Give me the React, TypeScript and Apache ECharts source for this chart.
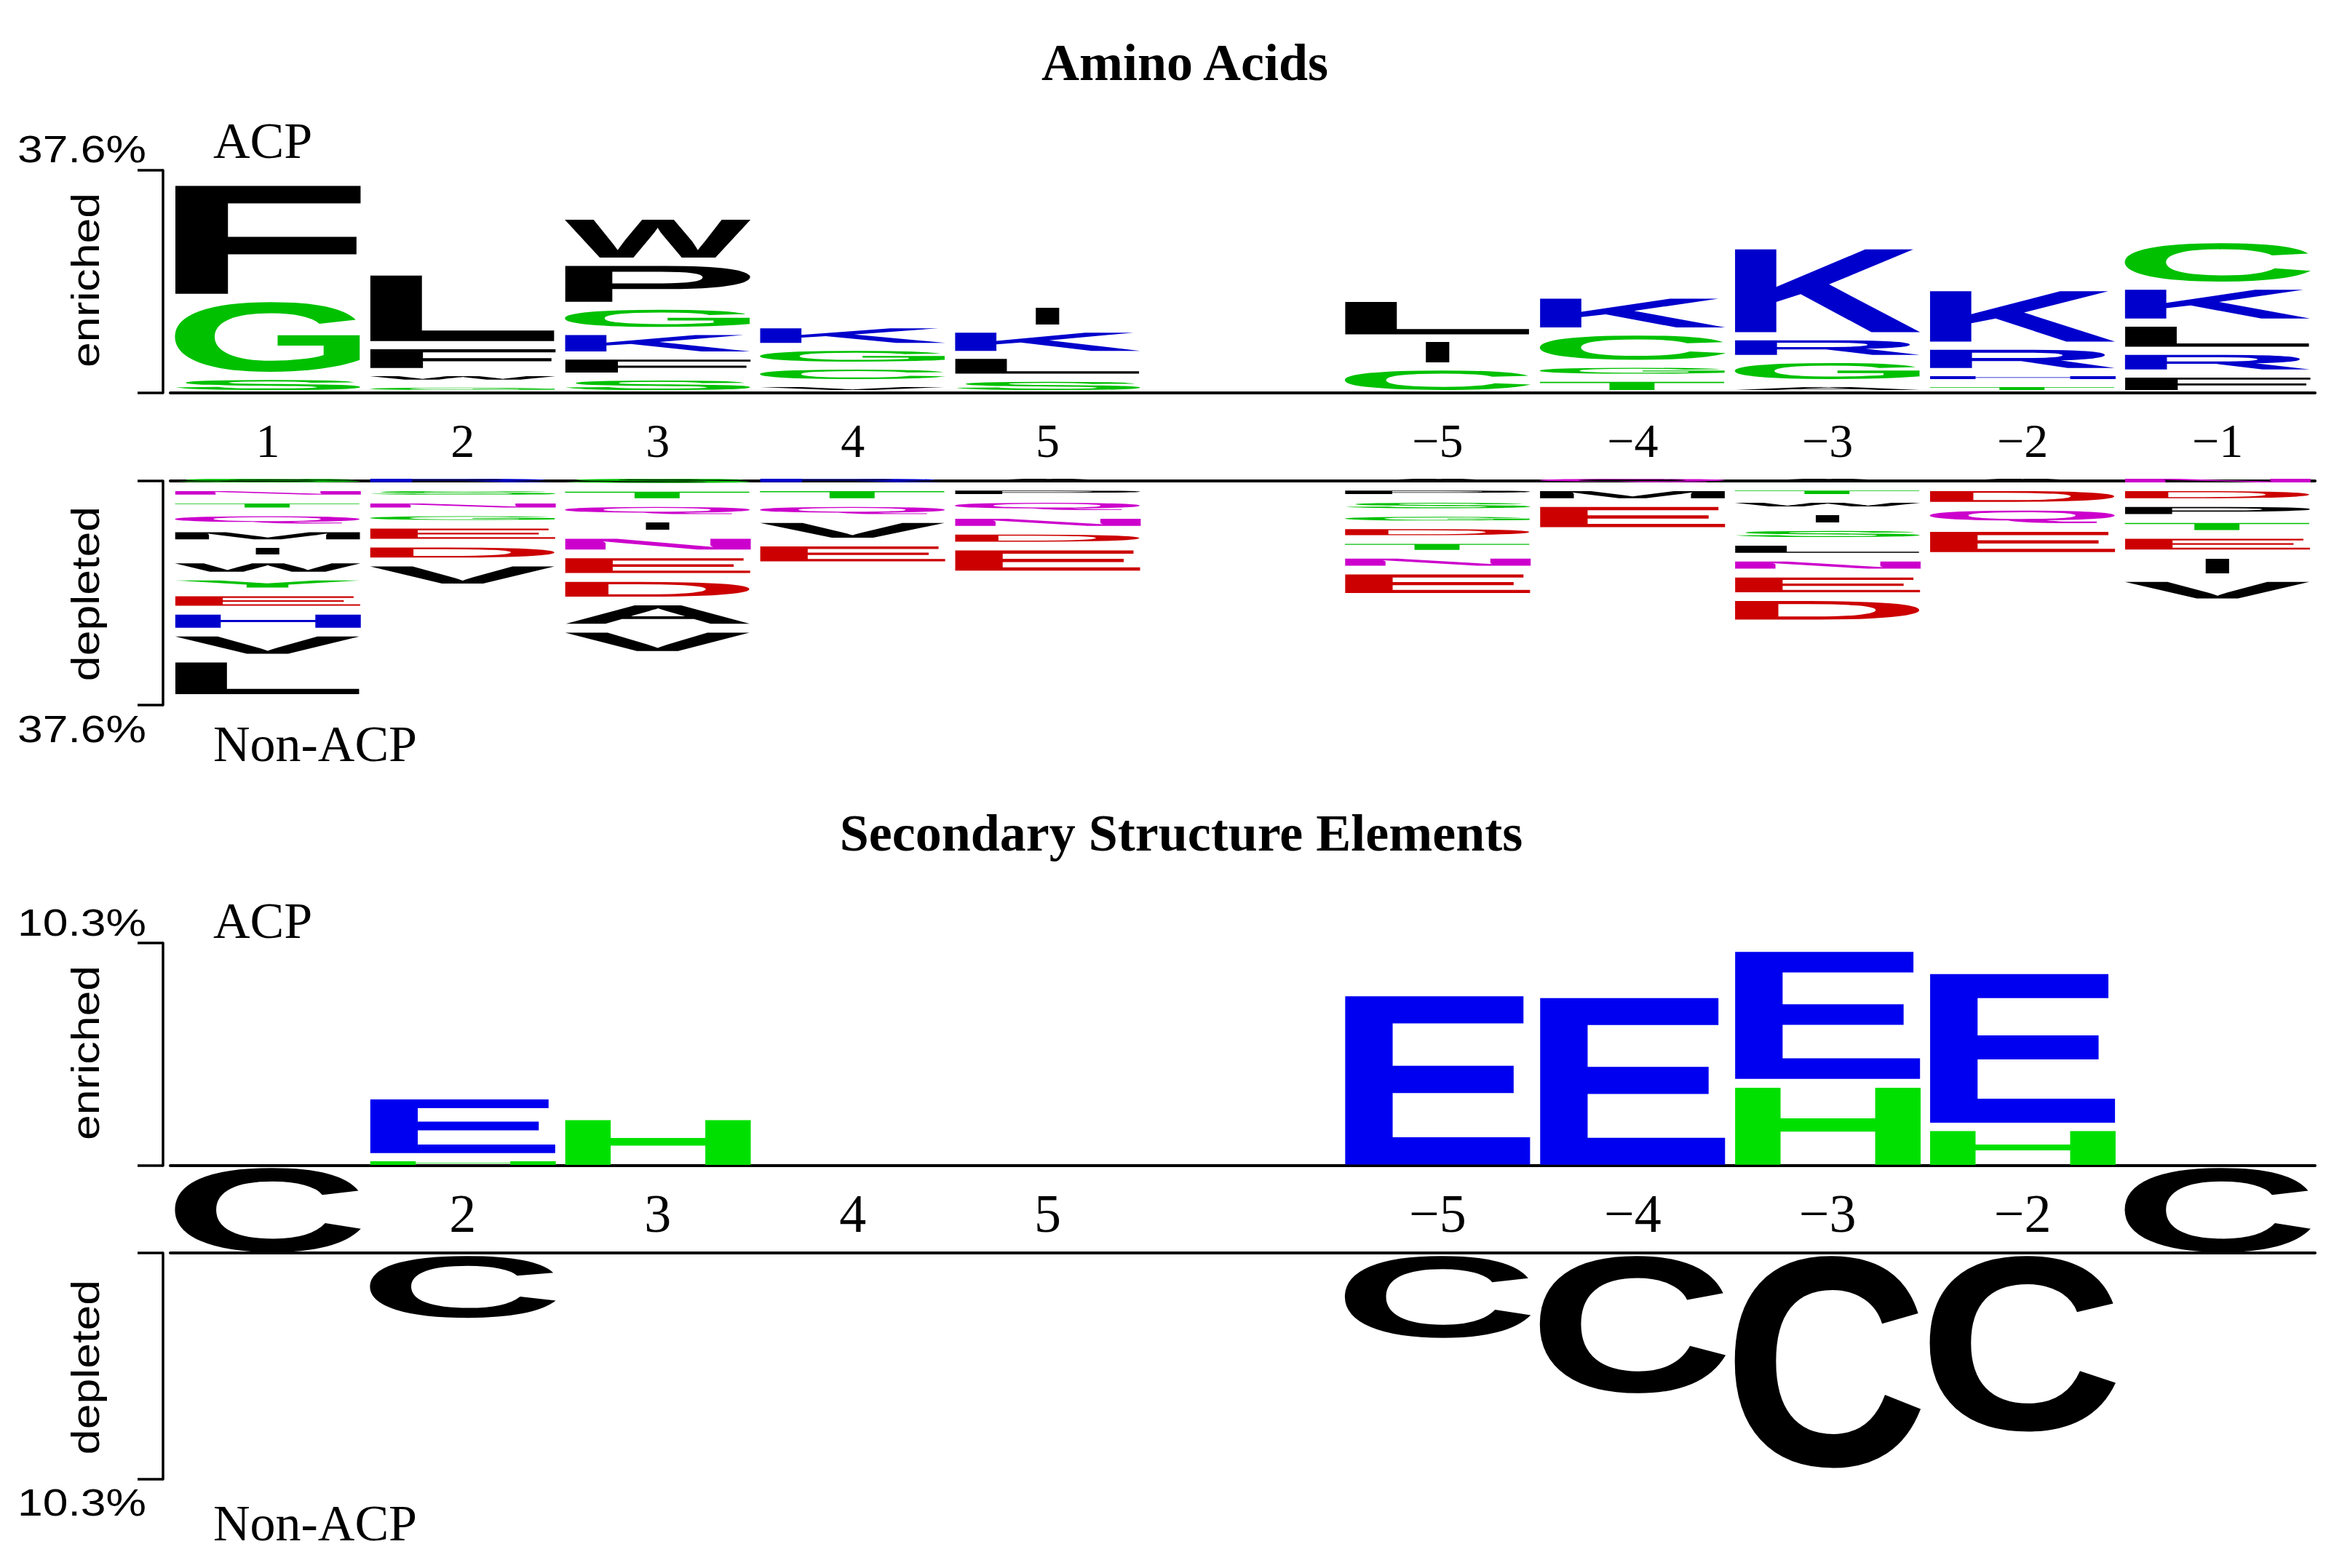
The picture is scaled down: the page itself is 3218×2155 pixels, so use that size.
import React, { useEffect, useRef } from "react";
import * as echarts from "echarts";

const WIDTH = 3218;
const HEIGHT = 2155;

// ---------- data ----------
const slots = ["0", "1", "2", "3", "4", "5", "6", "7", "8", "9", "10"];
const aaPositionLabels = ["1", "2", "3", "4", "5", "", "−5", "−4", "−3", "−2", "−1"];
const ssPositionLabels = ["", "2", "3", "4", "5", "", "−5", "−4", "−3", "−2", ""];

// Amino acids, enriched in ACP: letters from the baseline upward, heights in %
const aaEnrichedLetters = ["SGF", "GWFL", "SFKGPW", "VCGK", "SLKI", "", "CIL", "TGCK", "AGRK", "THRK", "FRLKC"];
const aaEnrichedHeights = [
  [1.7, 11.8, 18.4],
  [0.4, 0.6, 3.2, 11.1],
  [1.6, 2.2, 2.8, 2.9, 6.1, 6.4],
  [0.5, 1.6, 1.8, 2.5],
  [1.4, 2.5, 3.1, 2.8],
  [],
  [3.3, 3.4, 5.5],
  [1.4, 1.0, 4.1, 4.9],
  [0.5, 2.7, 2.5, 14.1],
  [0.5, 0.5, 3.1, 8.6],
  [2.1, 2.5, 3.4, 4.9, 6.5],
];

// Amino acids, depleted (enriched in Non-ACP): letters from the axis downward, heights in %
const aaDepletedLetters = ["SNTQMIWYEHVL", "RSNGEDV", "STQINEDAV", "RTQVE", "APQNDE", "", "APSGDTNE", "QME", "ATWISLNED", "ADQE", "NDPTEIV"];
const aaDepletedHeights = [
  [0.6, 0.6, 0.7, 1.2, 1.2, 1.1, 1.4, 1.2, 1.6, 2.2, 2.9, 5.3],
  [0.6, 0.6, 0.7, 0.6, 1.7, 1.7, 2.9],
  [0.7, 1.1, 1.2, 1.2, 1.8, 2.5, 2.5, 3.1, 3.1],
  [0.6, 1.2, 1.2, 2.5, 2.5],
  [0.5, 0.6, 1.2, 1.2, 1.2, 3.4],
  [],
  [0.5, 0.6, 0.9, 0.6, 1.0, 1.0, 1.2, 3.1],
  [0.6, 1.2, 3.4],
  [0.5, 0.6, 0.6, 1.2, 1.0, 1.2, 1.2, 2.5, 3.1],
  [0.6, 1.8, 2.1, 3.4],
  [0.6, 1.2, 1.2, 1.2, 1.8, 2.5, 2.8],
];

// Secondary structure elements
const ssEnrichedLetters = ["", "HE", "H", "", "", "", "E", "E", "HE", "HE", ""];
const ssEnrichedHeights = [[], [0.17, 2.49], [2.09], [], [], [], [7.81], [7.74], [3.6, 5.89], [1.58, 6.9], []];
const ssDepletedLetters = ["", "C", "", "", "", "", "C", "C", "C", "C", ""];
const ssDepletedHeights = [[], [2.82], [], [], [], [], [3.74], [6.26], [9.67], [8.01], []];
const ssConservedLetters = ["C", "", "", "", "", "", "", "", "", "", "C"];
const ssConservedHeights = [[1], [], [], [], [], [], [], [], [], [], [1]];

const aaMax = 37.6;
const ssMax = 10.3;

// ---------- styles ----------
const GLYPH_FAMILY = "'Liberation Sans', Arial, Helvetica, sans-serif";
const GLYPH_FS = 200;
const SERIF = "'Liberation Serif', 'Times New Roman', serif";
const SANS = "'Liberation Sans', Arial, Helvetica, sans-serif";

const aaColors: Record<string, string> = {};
"AVLIPWFM".split("").forEach((c) => (aaColors[c] = "#000000"));
"GSTYC".split("").forEach((c) => (aaColors[c] = "#00c000"));
"KRH".split("").forEach((c) => (aaColors[c] = "#0000cc"));
"DE".split("").forEach((c) => (aaColors[c] = "#cc0000"));
"NQ".split("").forEach((c) => (aaColors[c] = "#cc00cc"));
const ssColors: Record<string, string> = { C: "#000000", E: "#0000f0", H: "#00e000" };

const GRID_LEFT = 234;
const GRID_W = 2947;
const LETTER_FRAC = 0.955;
const I_FRAC = 0.125;

type Metric = { l: number; r: number; a: number; d: number; s: number };
type Item = { slot: number; letter: string; h: number; cum: number; idx: number; color: string };

function measureGlyphs(chars: string): Record<string, Metric> {
  const font = `bold ${GLYPH_FS}px ${GLYPH_FAMILY}`;
  const canvas = document.createElement("canvas");
  const ctx = canvas.getContext("2d")!;
  ctx.font = font;
  ctx.textBaseline = "alphabetic";
  ctx.textAlign = "left";
  let s = NaN;
  try {
    const ns = "http://www.w3.org/2000/svg";
    const svg = document.createElementNS(ns, "svg");
    svg.setAttribute("width", "800");
    svg.setAttribute("height", "800");
    (svg as any).style.position = "absolute";
    (svg as any).style.left = "-6000px";
    (svg as any).style.top = "0px";
    const mk = (db: string) => {
      const t = document.createElementNS(ns, "text");
      t.setAttribute("x", "0");
      t.setAttribute("y", "400");
      t.setAttribute("dominant-baseline", db);
      t.setAttribute("style", `font: ${font}`);
      t.textContent = "HQ";
      svg.appendChild(t);
      return t as any;
    };
    const ta = mk("alphabetic");
    const tc = mk("central");
    document.body.appendChild(svg);
    s = tc.getBBox().y - ta.getBBox().y;
    document.body.removeChild(svg);
  } catch (e) {
    s = NaN;
  }
  if (!isFinite(s) || s < 0.1 * GLYPH_FS || s > 0.6 * GLYPH_FS) s = 0.3465 * GLYPH_FS;
  const out: Record<string, Metric> = {};
  for (const ch of chars.split("")) {
    const m = ctx.measureText(ch);
    out[ch] = {
      l: m.actualBoundingBoxLeft,
      r: m.actualBoundingBoxRight,
      a: m.actualBoundingBoxAscent,
      d: m.actualBoundingBoxDescent,
      s,
    };
  }
  return out;
}

function buildItems(letters: string[], heights: number[][], colors: Record<string, string>): Item[] {
  const items: Item[] = [];
  letters.forEach((word, slot) => {
    let cum = 0;
    word.split("").forEach((ch, i) => {
      const h = heights[slot][i];
      items.push({ slot, letter: ch, h, cum, idx: i, color: colors[ch] });
      cum += h;
    });
  });
  return items;
}

function logoSeries(items: Item[], axisIdx: number, dir: 1 | -1, gap: number, offset: number, metrics: Record<string, Metric>) {
  return {
    type: "custom",
    xAxisIndex: axisIdx,
    yAxisIndex: axisIdx,
    coordinateSystem: "cartesian2d",
    clip: false,
    silent: true,
    encode: { x: 0, y: 1 },
    data: items.map((it) => [it.slot, it.cum, it.h, it.idx]),
    renderItem: (params: any, api: any) => {
      const it = items[params.dataIndex];
      const band = api.size([1, 0])[0];
      const c0 = api.coord([it.slot, it.cum]);
      const c1 = api.coord([it.slot, it.cum + it.h]);
      const hPx = Math.abs(c1[1] - c0[1]);
      let top: number;
      if (dir === 1) {
        const bottom = c0[1] - offset - it.idx * gap;
        top = bottom - hPx;
      } else {
        top = c0[1] + offset + it.idx * gap;
      }
      const w = band * (it.letter === "I" ? I_FRAC : LETTER_FRAC);
      const x0 = c0[0] - w / 2;
      const m = metrics[it.letter];
      const sx = w / (m.l + m.r);
      const sy = hPx / (m.a + m.d);
      return {
        type: "text",
        x: x0 + sx * m.l,
        y: top - sy * (m.s - m.a),
        scaleX: sx,
        scaleY: sy,
        silent: true,
        style: {
          text: it.letter,
          fill: it.color,
          font: `bold ${GLYPH_FS}px ${GLYPH_FAMILY}`,
          align: "left",
          verticalAlign: "middle",
          textAlign: "left",
          textVerticalAlign: "middle",
        },
      };
    },
  };
}

function catAxis(gridIndex: number, position: string, labels: string[] | null, fontSize: number, margin: number, showLine: boolean) {
  return {
    type: "category",
    gridIndex,
    position,
    data: slots,
    boundaryGap: true,
    axisLine: { show: showLine, onZero: false, lineStyle: { color: "#000", width: 4 } },
    axisTick: { show: false },
    axisLabel: {
      show: !!labels,
      interval: 0,
      margin,
      fontSize,
      fontFamily: SERIF,
      color: "#000",
      formatter: (_v: string, i: number) => (labels ? labels[i] : ""),
    },
    splitLine: { show: false },
  };
}

function bracketAxis(gridIndex: number, max: number, inverse: boolean, show: boolean) {
  return {
    type: "value",
    gridIndex,
    min: 0,
    max,
    interval: max,
    inverse,
    position: "left",
    offset: 10,
    show,
    axisLine: { show: true, lineStyle: { color: "#000", width: 3.5 } },
    axisTick: { show: true, inside: false, length: 35, lineStyle: { color: "#000", width: 3.5 } },
    axisLabel: { show: false },
    splitLine: { show: false },
  };
}

function gtext(text: string, x: number, y: number, font: string, align: string, extra: any = {}) {
  return {
    type: "text",
    x,
    y,
    silent: true,
    ...extra,
    style: {
      text,
      fill: "#000",
      font,
      align,
      verticalAlign: "middle",
      textAlign: align,
      textVerticalAlign: "middle",
    },
  };
}

function buildOption(metrics: Record<string, Metric>) {
  const aaE = buildItems(aaEnrichedLetters, aaEnrichedHeights, aaColors);
  const aaD = buildItems(aaDepletedLetters, aaDepletedHeights, aaColors);
  const ssE = buildItems(ssEnrichedLetters, ssEnrichedHeights, ssColors);
  const ssD = buildItems(ssDepletedLetters, ssDepletedHeights, ssColors);
  const ssC = buildItems(ssConservedLetters, ssConservedHeights, ssColors);

  const titleFont = `bold 72px ${SERIF}`;
  const labFont = `normal 70px ${SERIF}`;
  const pctFont = `normal 52px ${SANS}`;
  const sideFont = `normal 54px ${SANS}`;

  return {
    animation: false,
    backgroundColor: "#ffffff",
    grid: [
      { left: GRID_LEFT, width: GRID_W, top: 234, height: 306 },
      { left: GRID_LEFT, width: GRID_W, top: 661, height: 308 },
      { left: GRID_LEFT, width: GRID_W, top: 1296, height: 306 },
      { left: GRID_LEFT, width: GRID_W, top: 1722, height: 311 },
      { left: GRID_LEFT, width: GRID_W, top: 1605, height: 116 },
    ],
    xAxis: [
      catAxis(0, "bottom", aaPositionLabels, 66, 32, true),
      catAxis(1, "top", null, 66, 8, true),
      catAxis(2, "bottom", ssPositionLabels, 74, 29, true),
      catAxis(3, "top", null, 66, 8, true),
      catAxis(4, "bottom", null, 66, 8, false),
    ],
    yAxis: [
      bracketAxis(0, aaMax, false, true),
      bracketAxis(1, aaMax, true, true),
      bracketAxis(2, ssMax, false, true),
      bracketAxis(3, ssMax, true, true),
      bracketAxis(4, 1, false, false),
    ],
    series: [
      logoSeries(aaE, 0, 1, 11, 4, metrics),
      logoSeries(aaD, 1, -1, 12, -3, metrics),
      logoSeries(ssE, 2, 1, 11, 1, metrics),
      logoSeries(ssD, 3, -1, 11, 4, metrics),
      logoSeries(ssC, 4, 1, 0, 0, metrics),
    ],
    graphic: [
      gtext("Amino Acids", 1628, 86, titleFont, "center"),
      gtext("Secondary Structure Elements", 1623, 1145, titleFont, "center"),
      gtext("ACP", 293, 193, labFont, "left"),
      gtext("Non-ACP", 293, 1022, labFont, "left"),
      gtext("37.6%", 201, 205, pctFont, "right", { scaleX: 1.2 }),
      gtext("37.6%", 201, 1002, pctFont, "right", { scaleX: 1.2 }),
      gtext("enriched", 117, 385, sideFont, "center", { rotation: Math.PI / 2, scaleX: 1.16 }),
      gtext("depleted", 117, 816, sideFont, "center", { rotation: Math.PI / 2, scaleX: 1.16 }),
      gtext("ACP", 293, 1265, labFont, "left"),
      gtext("Non-ACP", 293, 2093, labFont, "left"),
      gtext("10.3%", 201, 1268, pctFont, "right", { scaleX: 1.2 }),
      gtext("10.3%", 201, 2065, pctFont, "right", { scaleX: 1.2 }),
      gtext("enriched", 117, 1447, sideFont, "center", { rotation: Math.PI / 2, scaleX: 1.16 }),
      gtext("depleted", 117, 1879, sideFont, "center", { rotation: Math.PI / 2, scaleX: 1.16 }),
    ],
  };
}

export default function App() {
  const ref = useRef<HTMLDivElement>(null);
  useEffect(() => {
    document.body.style.margin = "0";
    const el = ref.current!;
    const metrics = measureGlyphs("ACDEFGHIKLMNPQRSTVWY");
    const chart = echarts.init(el, null, { renderer: "svg", width: WIDTH, height: HEIGHT });
    chart.setOption(buildOption(metrics) as any);
    return () => {
      chart.dispose();
    };
  }, []);
  return <div ref={ref} style={{ width: WIDTH, height: HEIGHT, background: "#fff" }} />;
}
